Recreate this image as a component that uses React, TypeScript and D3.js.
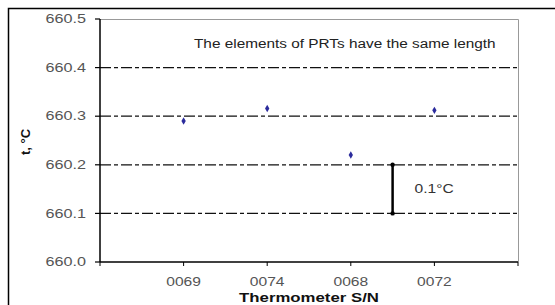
import React, { useEffect, useRef } from 'react';
import * as d3 from 'd3';

const categories = ['0069', '0074', '0068', '0072'];
const values = [660.29, 660.316, 660.22, 660.312];
const yTicks = [660.0, 660.1, 660.2, 660.3, 660.4, 660.5];
const gridValues = [660.1, 660.2, 660.3, 660.4];
const noteText = 'The elements of PRTs have the same length';
const bracket = { pos: 3.5, from: 660.1, to: 660.2, label: '0.1°C' };

const width = 555;
const height = 305;

const App = () => {
  const svgRef = useRef<SVGSVGElement>(null);

  useEffect(() => {
    const svg = d3.select(svgRef.current);
    svg.selectAll('*').remove();

    const left = 100, right = 518, top = 19, bottom = 262;
    const sx = 1.3; // the picture's text is stretched sideways

    const x = d3.scaleLinear().domain([0, categories.length + 1]).range([left, right]);
    const y = d3.scaleLinear().domain([660.0, 660.5]).range([bottom, top]);

    const font = 'Liberation Sans, Arial, sans-serif';
    const addText = (tx: number, ty: number, str: string, opts: any = {}) =>
      svg.append('text')
        .attr('transform', `translate(${tx},${ty}) scale(${opts.scale ?? sx},1)`)
        .attr('text-anchor', opts.anchor || 'middle')
        .attr('dominant-baseline', 'central')
        .style('font-family', font)
        .style('font-size', (opts.size || 12) + 'px')
        .style('font-weight', opts.bold ? 'bold' : 'normal')
        .attr('fill', opts.fill || '#555')
        .text(str);

    // outer frame
    svg.append('rect')
      .attr('x', 8.5).attr('y', 8.5)
      .attr('width', 560).attr('height', 320)
      .attr('fill', 'white').attr('stroke', '#000').attr('stroke-width', 1.5);

    // plot border (top & right grey)
    svg.append('path')
      .attr('d', `M${left},${top + 0.5}H${right + 0.5}V${bottom}`)
      .attr('fill', 'none').attr('stroke', '#999').attr('stroke-width', 1);

    // grid lines
    svg.selectAll('.grid')
      .data(gridValues)
      .enter()
      .append('line')
      .attr('x1', left).attr('x2', right)
      .attr('y1', d => y(d)).attr('y2', d => y(d))
      .attr('stroke', '#111').attr('stroke-width', 1.2)
      .attr('stroke-dasharray', '11,3,4,3');

    // y axis
    svg.append('line')
      .attr('x1', left).attr('x2', left).attr('y1', top).attr('y2', bottom)
      .attr('stroke', '#000').attr('stroke-width', 1.5);
    yTicks.forEach(t => {
      svg.append('line')
        .attr('x1', left - 5).attr('x2', left).attr('y1', y(t)).attr('y2', y(t))
        .attr('stroke', '#000').attr('stroke-width', 1.2);
      addText(left - 14, y(t), t.toFixed(1), { anchor: 'end', scale: 1.35 });
    });

    // x axis
    svg.append('line')
      .attr('x1', left).attr('x2', right).attr('y1', bottom).attr('y2', bottom)
      .attr('stroke', '#000').attr('stroke-width', 1.5);
    d3.range(categories.length + 2).forEach(i => {
      svg.append('line')
        .attr('x1', x(i)).attr('x2', x(i)).attr('y1', bottom).attr('y2', bottom + 4)
        .attr('stroke', '#000').attr('stroke-width', 1);
    });
    categories.forEach((c, i) => addText(x(i + 1), 282, c));

    // points
    svg.selectAll('.pt')
      .data(values)
      .enter()
      .append('path')
      .attr('d', d3.symbol(d3.symbolDiamond, 16))
      .attr('transform', (d, i) => `translate(${x(i + 1)},${y(d)})`)
      .attr('fill', '#2b2b9c');

    // 0.1 °C bracket
    svg.append('line')
      .attr('x1', x(bracket.pos)).attr('x2', x(bracket.pos))
      .attr('y1', y(bracket.to)).attr('y2', y(bracket.from))
      .attr('stroke', '#000').attr('stroke-width', 2.5);
    [bracket.from, bracket.to].forEach(v => {
      svg.append('circle')
        .attr('cx', x(bracket.pos)).attr('cy', y(v)).attr('r', 2.2).attr('fill', '#000');
    });
    addText(x(bracket.pos) + 22, y((bracket.from + bracket.to) / 2), bracket.label, { anchor: 'start', fill: '#333' });

    // note
    addText(194, 44, noteText, { anchor: 'start', fill: '#222', scale: 1.28 });

    // axis titles
    addText((left + right) / 2, 298, 'Thermometer S/N', { bold: true, size: 12, fill: '#111', scale: 1.4 });
    svg.append('text')
      .attr('transform', `translate(25,142) rotate(-90)`)
      .attr('text-anchor', 'middle')
      .attr('dominant-baseline', 'central')
      .style('font-family', font)
      .style('font-size', '13px')
      .style('font-weight', 'bold')
      .attr('fill', '#111')
      .text('t, °C');
  }, []);

  return (
    <svg ref={svgRef} width={width} height={height}
      style={{ position: 'absolute', left: 0, top: 0, background: 'white' }} />
  );
};

export default App;
